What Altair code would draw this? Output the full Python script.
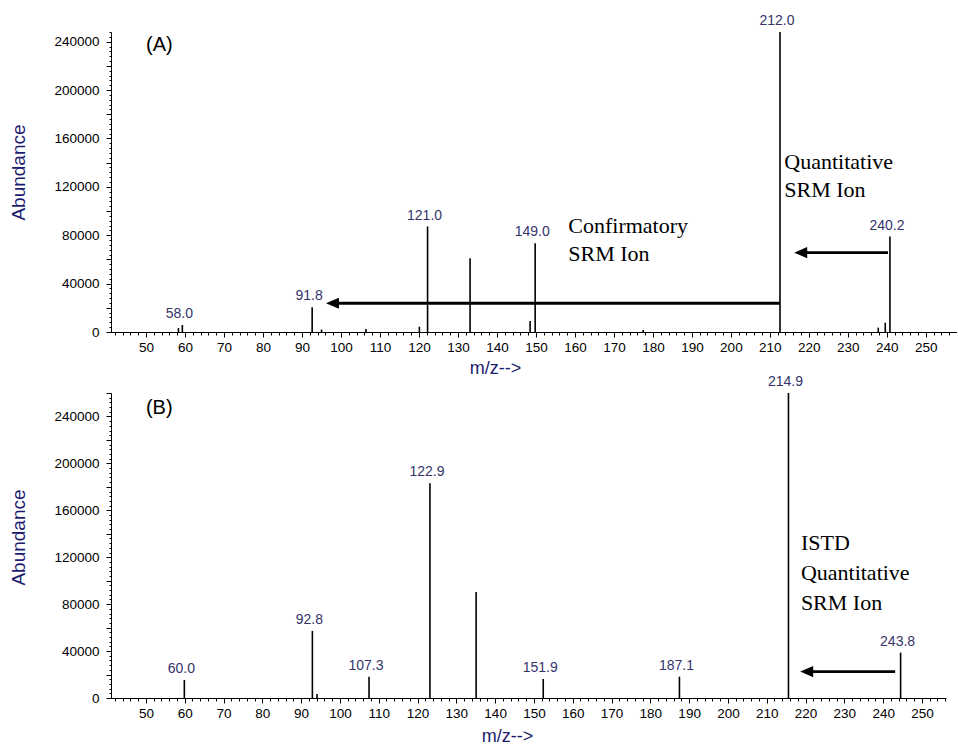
import altair as alt
import pandas as pd

# ---------------- Panel (A) ----------------
A_MZ = [58.3, 59.3, 92.6, 95.0, 106.4, 120.1, 122.2, 133.1, 148.5, 149.8, 177.5, 212.6, 237.8, 239.6, 240.8]
A_AB = [3300, 5800, 20400, 2000, 2500, 4400, 87200, 61000, 9100, 73400, 1700, 248000, 3600, 7700, 78900]
A_LAB = ["", "58.0", "91.8", "", "", "", "121.0", "", "", "149.0", "", "212.0", "", "", "240.2"]

A_NOTE_X = [213.7, 158.3]
A_NOTE_Y = [135000, 82200]
A_NOTE_TXT = ["Quantitative\nSRM Ion", "Confirmatory\nSRM Ion"]

A_ARROW_HEAD = [97.8, 217.9]
A_ARROW_TAIL = [212.6, 240.3]
A_ARROW_Y = [23760, 65600]

A_TAG = "(A)"
A_TAG_X = 50
A_TAG_Y = 232000

# ---------------- Panel (B) ----------------
B_MZ = [59.9, 92.9, 94.1, 107.5, 123.2, 135.1, 152.4, 187.5, 215.6, 244.5]
B_AB = [15400, 57200, 3400, 18200, 183000, 90300, 16200, 18200, 260000, 38700]
B_LAB = ["60.0", "92.8", "", "107.3", "122.9", "", "151.9", "187.1", "214.9", "243.8"]

B_NOTE_X = [218.8]
B_NOTE_Y = [126400]
B_NOTE_TXT = ["ISTD\nQuantitative\nSRM Ion"]

B_ARROW_HEAD = [220.3]
B_ARROW_TAIL = [243.1]
B_ARROW_Y = [22500]

B_TAG = "(B)"
B_TAG_X = 50
B_TAG_Y = 241700

X_MAJOR = list(range(50, 251, 10))
X_MINOR = list(range(42, 258, 2))

SANS = "Liberation Sans"
SERIF = "Liberation Serif"
NAVY = "#1c1c6e"
PEAK_LABEL = "#34346a"
ARROW_SHAPE = "M-1,0L1,-0.85L1,0.85Z"


def panel(mz, ab, lab, nx, ny, ntxt, line_h, ah, at, ay, tag, tx, ty,
          xdom, ymax, w, h, xt_x, xt_y, yt_y):
    peaks = pd.DataFrame({"mz": mz, "ab": ab, "lab": lab})
    notes = pd.DataFrame({"x": nx, "y": ny, "t": ntxt})
    arrows = pd.DataFrame({"head": ah, "tail": at, "y": ay})
    tags = pd.DataFrame({"x": [tx], "y": [ty], "t": [tag]})

    xs = alt.Scale(domain=xdom, nice=False, zero=False)
    ys = alt.Scale(domain=[0, ymax], nice=False, zero=True)

    x_major = alt.Axis(
        orient="bottom", values=X_MAJOR, tickSize=5, tickColor="black", tickWidth=1,
        domainColor="black", domainWidth=1, labelFont=SANS, labelFontSize=13.5,
        labelColor="black", labelPadding=3, labelOverlap=False, labelFlush=False,
        grid=False, title="m/z-->", titleFont=SANS, titleFontSize=18,
        titleFontWeight="normal", titleColor=NAVY, titleX=xt_x, titleY=xt_y,
        titleAlign="center", titleBaseline="alphabetic",
    )
    y_major = alt.Axis(
        orient="left", values=list(range(0, int(ymax) + 1, 20000)), format="d",
        labelExpr="datum.value % 40000 == 0 ? datum.label : ''",
        tickSize=5, tickColor="black", tickWidth=1, domainColor="black", domainWidth=1,
        labelFont=SANS, labelFontSize=13.5, labelColor="black", labelPadding=7,
        labelOverlap=False, labelFlush=False, grid=False,
        title="Abundance", titleFont=SANS, titleFontSize=19, titleFontWeight="normal",
        titleColor=NAVY, titleAngle=270, titleX=-93, titleY=yt_y,
        titleAlign="center", titleBaseline="middle",
    )
    x_minor = alt.Axis(
        orient="bottom", values=X_MINOR, tickSize=3, tickColor="black", tickWidth=1,
        domain=False, labels=False, grid=False, title=None,
    )
    y_minor = alt.Axis(
        orient="left", values=list(range(0, int(ymax) + 1, 4000)), tickSize=2,
        tickColor="black", tickWidth=1, domain=False, labels=False, grid=False, title=None,
    )

    minor_layer = alt.Chart(peaks).mark_rule(opacity=0).encode(
        x=alt.X("mz:Q", scale=xs, axis=x_minor),
        y=alt.Y("ab:Q", scale=ys, axis=y_minor),
    )
    peak_layer = alt.Chart(peaks).mark_rule(color="black", strokeWidth=1.6).encode(
        x=alt.X("mz:Q", scale=xs, axis=x_major),
        y=alt.Y("ab:Q", scale=ys, axis=y_major),
        y2=alt.datum(0),
    )
    label_layer = alt.Chart(peaks).transform_filter("datum.lab != ''").mark_text(
        font=SANS, fontSize=14, color=PEAK_LABEL, baseline="alphabetic", align="center",
        dy=-7, dx=-3,
    ).encode(
        x=alt.X("mz:Q", scale=xs, axis=None),
        y=alt.Y("ab:Q", scale=ys, axis=None),
        text="lab:N",
    )
    shaft_layer = alt.Chart(arrows).mark_rule(color="black", strokeWidth=2.8).encode(
        x=alt.X("head:Q", scale=xs, axis=None),
        x2="tail:Q",
        y=alt.Y("y:Q", scale=ys, axis=None),
    )
    head_layer = alt.Chart(arrows).mark_point(
        shape=ARROW_SHAPE, size=169, filled=True, color="black", opacity=1, strokeWidth=0,
    ).encode(
        x=alt.X("head:Q", scale=xs, axis=None),
        y=alt.Y("y:Q", scale=ys, axis=None),
    )
    note_layer = alt.Chart(notes).mark_text(
        font=SERIF, fontSize=22, color="black", align="left", baseline="alphabetic",
        lineBreak="\n", lineHeight=line_h,
    ).encode(
        x=alt.X("x:Q", scale=xs, axis=None),
        y=alt.Y("y:Q", scale=ys, axis=None),
        text="t:N",
    )
    tag_layer = alt.Chart(tags).mark_text(
        font=SANS, fontSize=20, color="black", align="left", baseline="alphabetic",
    ).encode(
        x=alt.X("x:Q", scale=xs, axis=None),
        y=alt.Y("y:Q", scale=ys, axis=None),
        text="t:N",
    )
    return alt.layer(
        minor_layer, peak_layer, label_layer, shaft_layer, head_layer, note_layer, tag_layer
    ).resolve_axis(x="independent", y="independent").properties(width=w, height=h)


top = panel(A_MZ, A_AB, A_LAB, A_NOTE_X, A_NOTE_Y, A_NOTE_TXT, 28,
            A_ARROW_HEAD, A_ARROW_TAIL, A_ARROW_Y, A_TAG, A_TAG_X, A_TAG_Y,
            [41.0, 258.0], 248000, 846, 300, 384, 41, 140)
bottom = panel(B_MZ, B_AB, B_LAB, B_NOTE_X, B_NOTE_Y, B_NOTE_TXT, 30,
               B_ARROW_HEAD, B_ARROW_TAIL, B_ARROW_Y, B_TAG, B_TAG_X, B_TAG_Y,
               [41.0, 256.2], 260000, 835, 305, 396, 43, 144)

chart = alt.vconcat(top, bottom, spacing=61, bounds="flush").properties(
    padding={"left": 9, "top": 14, "right": 0, "bottom": 0},
    background="white",
).configure_view(stroke=None)

chart.save("out.html", embed_options={"renderer": "svg", "actions": False})
